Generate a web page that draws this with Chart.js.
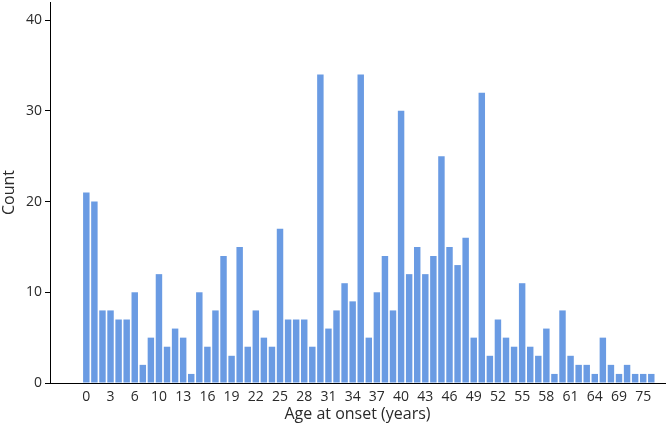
<!DOCTYPE html>
<html>
<head>
<meta charset="utf-8">
<script src="https://cdn.jsdelivr.net/npm/chart.js@4"></script>
<style>
  html, body { margin: 0; padding: 0; background: #fff; }
  #wrap { width: 668px; height: 427px; position: relative; }
</style>
</head>
<body>
<div id="wrap"><canvas id="chart"></canvas></div>
<script>
// Edades (categorías) y recuentos
const ages = [0, 1, 2, 3, 4, 5, 6, 7, 8, 10, 11, 12, 13, 14, 15, 16, 17, 18, 19, 20,
    21, 22, 23, 24, 25, 26, 27, 28, 29, 30, 31, 32, 33, 34, 35, 36, 37, 38, 39, 40,
    41, 42, 43, 44, 45, 46, 47, 48, 49, 50, 51, 52, 53, 54, 55, 56, 57, 58, 59, 60,
    61, 62, 63, 64, 65, 67, 69, 71, 73, 75, 77];
const counts = [21, 20, 8, 8, 7, 7, 10, 2, 5, 12, 4, 6, 5, 1, 10, 4, 8, 14, 3, 15,
    4, 8, 5, 4, 17, 7, 7, 7, 4, 34, 6, 8, 11, 9, 34, 5, 10, 14, 8, 30,
    12, 15, 12, 14, 25, 15, 13, 16, 5, 32, 3, 7, 5, 4, 11, 4, 3, 6, 1, 8,
    3, 2, 2, 1, 5, 2, 1, 2, 1, 1, 1];
const yTicks = [0, 10, 20, 30, 40];
const labelEvery = 3;

const font = "'Open Sans', 'Noto Sans', sans-serif";
const textColor = '#2a2a2a';

const ctx = document.getElementById('chart').getContext('2d');
new Chart(ctx, {
    type: 'bar',
    data: {
        datasets: [{
            label: 'Count',
            data: counts.map((v, i) => ({ x: i, y: v })),
            backgroundColor: 'rgb(106, 155, 227)',
            borderWidth: 0,
            barPercentage: 1,
            categoryPercentage: 0.8,
        }],
    },
    options: {
        responsive: true,
        maintainAspectRatio: false,
        animation: false,
        layout: { padding: { top: 2, right: 3, left: 0, bottom: 0 } },
        plugins: {
            legend: { display: false },
            tooltip: { enabled: false },
        },
        scales: {
            x: {
                type: 'linear',
                min: -4.5,
                max: 71.7,
                offset: false,
                grid: { display: false },
                border: { display: true, color: '#000', width: 1 },
                afterBuildTicks: (scale) => {
                    scale.ticks = ages
                        .map((a, i) => i)
                        .filter(i => i % labelEvery === 0)
                        .map(i => ({ value: i }));
                },
                afterFit: (scale) => {
                    scale.height = 44;
                    scale.paddingLeft = 0;
                    scale.paddingRight = 0;
                },
                ticks: {
                    autoSkip: false,
                    maxRotation: 0,
                    padding: -2,
                    color: textColor,
                    font: { family: font, size: 14 },
                    callback: (v) => ages[v],
                },
                title: {
                    display: true,
                    text: 'Age at onset (years)',
                    color: textColor,
                    font: { family: font, size: 16 },
                    padding: { top: 0, bottom: 3 },
                },
            },
            y: {
                min: 0,
                max: 42,
                afterBuildTicks: (scale) => {
                    scale.ticks = yTicks.map(v => ({ value: v }));
                },
                afterFit: (scale) => {
                    scale.width = 50;
                    scale.paddingTop = 0;
                    scale.paddingBottom = 0;
                },
                grid: {
                    display: true,
                    drawOnChartArea: false,
                    drawTicks: true,
                    tickLength: 5,
                    color: '#000',
                },
                border: { display: true, color: '#000', width: 1 },
                ticks: {
                    padding: 3,
                    color: textColor,
                    font: { family: font, size: 14 },
                },
                title: {
                    display: true,
                    text: 'Count',
                    color: textColor,
                    font: { family: font, size: 16 },
                    padding: { top: 0, bottom: 0 },
                },
            },
        },
    },
});
</script>
</body>
</html>
